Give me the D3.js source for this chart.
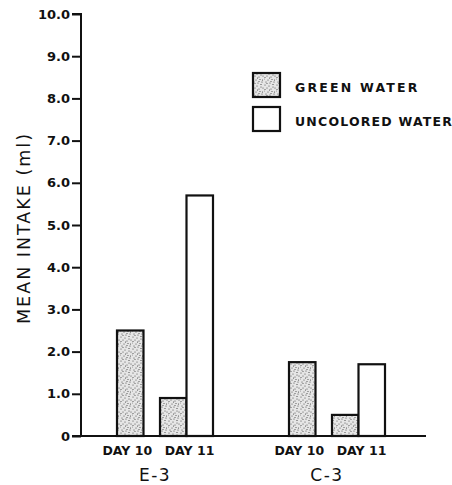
<!DOCTYPE html>
<html><head><meta charset="utf-8">
<script src="https://cdn.jsdelivr.net/npm/d3@7"></script>
<style>
html,body{margin:0;padding:0;background:#fff;}
svg text{font-family:"DejaVu Sans",sans-serif;fill:#111;}
</style></head>
<body>
<svg id="c" width="452" height="485"></svg>
<script>
const groups = ["E-3", "C-3"];
const days = ["DAY 10", "DAY 11"];
const seriesNames = ["GREEN WATER", "UNCOLORED WATER"];
const greenValues = [[2.5, 0.9], [1.75, 0.5]];      // [group][day]
const uncoloredValues = [[null, 5.7], [null, 1.7]]; // [group][day]
const yTicks = [0, 1, 2, 3, 4, 5, 6, 7, 8, 9, 10];
const yTickLabels = ["0", "1.0", "2.0", "3.0", "4.0", "5.0", "6.0", "7.0", "8.0", "9.0", "10.0"];
const yLabel = "MEAN INTAKE (ml)";

const svg = d3.select("#c");
const defs = svg.append("defs");
// stipple texture
const pat = defs.append("pattern").attr("id", "stip").attr("patternUnits", "userSpaceOnUse")
  .attr("width", 12).attr("height", 12);
pat.append("rect").attr("width", 12).attr("height", 12).attr("fill", "#e6e6e6");
const dots = [[1,1],[5,2],[9,0.5],[3,4],[7,5],[11,4],[0,7],[4,8],[8,7.5],[2,10],[6,11],[10,10],[9,3],[1,5.5],[5.5,6],[10.5,8],[3,11.5],[7,9.5]];
pat.selectAll("circle").data(dots).join("circle")
  .attr("cx", d => d[0]).attr("cy", d => d[1]).attr("r", 0.55).attr("fill", "#444");

const y = d3.scaleLinear().domain([0, 10]).range([436, 14]);
const xGroup = d3.scaleBand().domain(groups).range([117, 461]);
const xDay = d3.scaleBand().domain(days).range([0, 86]);
const xSeries = d3.scaleBand().domain(seriesNames).range([0, 53]);
const bw = xSeries.bandwidth();

// y axis
const yAxis = d3.axisLeft(y).tickValues(yTicks).tickFormat((d, i) => yTickLabels[i])
  .tickSize(9).tickPadding(2);
const ga = svg.append("g").attr("transform", "translate(81,0)").call(yAxis);
ga.select(".domain").attr("stroke", "#111").attr("stroke-width", 2).attr("d", "M-9,14H0V436");
ga.selectAll(".tick line").attr("stroke", "#111").attr("stroke-width", 2);
ga.selectAll(".tick text").style("font-size", "13px").style("font-weight", "bold").attr("fill", "#111");

// x baseline
svg.append("line").attr("x1", 72).attr("x2", 426).attr("y1", y(0)).attr("y2", y(0))
  .attr("stroke", "#111").attr("stroke-width", 2);

// bars
const bars = [];
groups.forEach((g, gi) => days.forEach((d, di) => {
  if (greenValues[gi][di] != null) bars.push({g, d, s: seriesNames[0], v: greenValues[gi][di]});
  if (uncoloredValues[gi][di] != null) bars.push({g, d, s: seriesNames[1], v: uncoloredValues[gi][di]});
}));
svg.selectAll("rect.bar").data(bars).join("rect").attr("class", "bar")
  .attr("x", b => xGroup(b.g) + xDay(b.d) + xSeries(b.s))
  .attr("width", bw)
  .attr("y", b => y(b.v))
  .attr("height", b => y(0) - y(b.v))
  .attr("fill", b => b.s === seriesNames[0] ? "url(#stip)" : "#fff")
  .attr("stroke", "#111").attr("stroke-width", 2.2);

// day labels
groups.forEach(g => days.forEach((d, di) => {
  const cx = di === 0 ? xGroup(g) + xDay(d) + bw / 2 - 3 : xGroup(g) + xDay(d) + bw + 3;
  svg.append("text").attr("x", cx).attr("y", 455).attr("text-anchor", "middle")
    .style("font-size", "12.5px").style("font-weight", "bold").text(d);
}));
svg.selectAll("text.grp").data(groups).join("text").attr("class", "grp")
  .attr("x", g => xGroup(g) + 38).attr("y", 481).attr("text-anchor", "middle")
  .style("font-size", "17px").style("letter-spacing", "1.5px").text(g => g);

// y label
svg.append("text").attr("transform", "translate(30,228) rotate(-90)").attr("text-anchor", "middle")
  .style("font-size", "17.5px").style("letter-spacing", "2px").text(yLabel);

// legend
const lg = svg.append("g");
seriesNames.forEach((s, i) => {
  lg.append("rect").attr("x", 253).attr("y", 73 + i * 34).attr("width", 27).attr("height", 24)
    .attr("fill", i === 0 ? "url(#stip)" : "#fff").attr("stroke", "#111").attr("stroke-width", 2.2);
  lg.append("text").attr("x", 295).attr("y", 92 + i * 34).style("font-size", "12.5px")
    .style("letter-spacing", i === 0 ? "2.2px" : "1.2px").style("font-weight", "bold").text(s);
});
</script>
</body></html>
